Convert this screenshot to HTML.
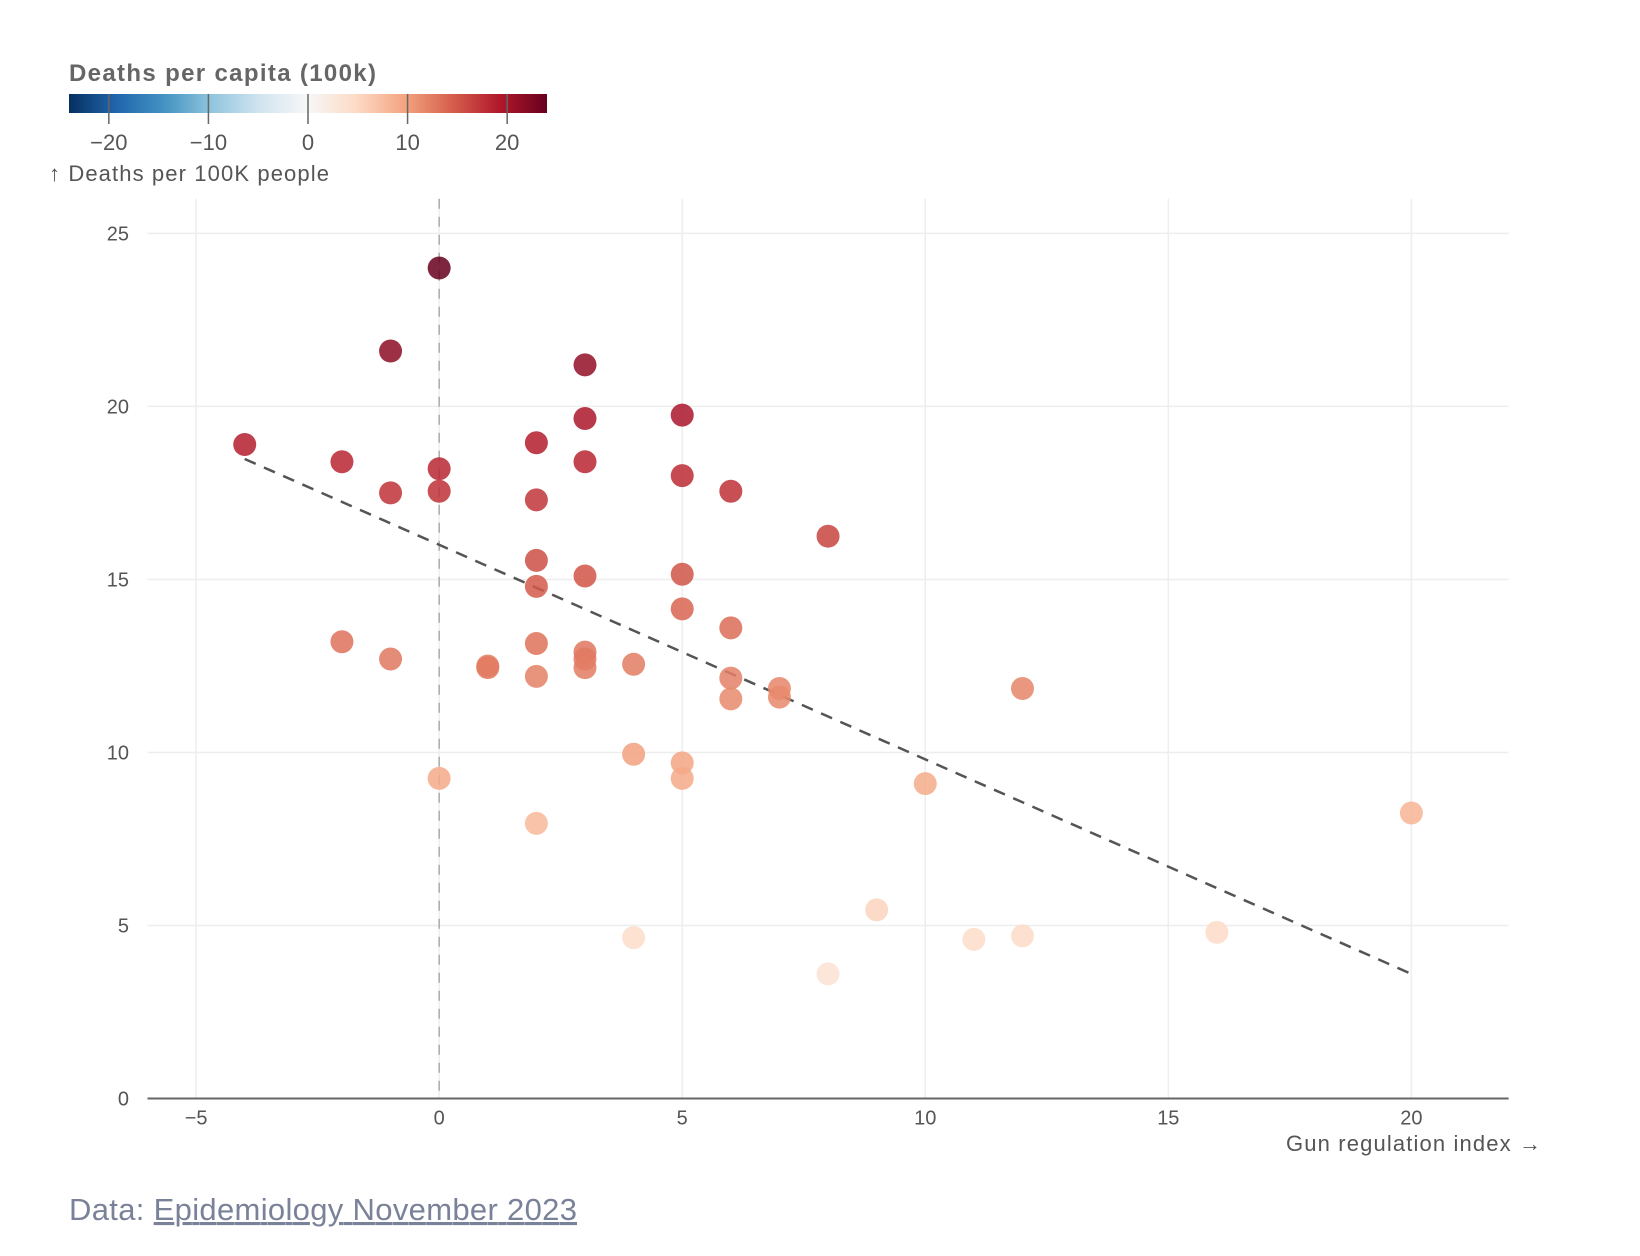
<!DOCTYPE html>
<html><head><meta charset="utf-8"><style>
html,body{margin:0;padding:0;background:#fff;width:1640px;height:1256px;overflow:hidden}
svg{display:block;font-family:"Liberation Sans",sans-serif}
</style></head><body>
<svg id="chart" width="1640" height="1256" viewBox="0 0 1640 1256">
<defs>
<linearGradient id="rdbu" x1="0" x2="1" y1="0" y2="0">
<stop offset="0" stop-color="#053061"/><stop offset="0.1" stop-color="#2166ac"/><stop offset="0.2" stop-color="#4393c3"/><stop offset="0.3" stop-color="#92c5de"/><stop offset="0.4" stop-color="#d1e5f0"/><stop offset="0.5" stop-color="#f7f7f7"/><stop offset="0.6" stop-color="#fddbc7"/><stop offset="0.7" stop-color="#f4a582"/><stop offset="0.8" stop-color="#d6604d"/><stop offset="0.9" stop-color="#b2182b"/><stop offset="1" stop-color="#67001f"/>
</linearGradient>
</defs>
<g id="legend"></g>
<g id="grid"></g>
<g id="axes"></g>
<g id="trend"></g>
<g id="points"></g>
<text x="69" y="1220" font-size="31" fill="#7a8299" textLength="508">Data: <tspan text-decoration="underline">Epidemiology November 2023</tspan></text>
</svg>
<script>
const xValues=[0,-1,3,-4,5,3,2,-2,3,0,5,-1,0,6,2,8,2,3,5,2,5,6,-2,2,3,3,3,-1,1,1,4,2,6,7,12,7,6,4,5,0,5,10,20,2,9,4,12,11,16,8];
const yValues=[24.0,21.6,21.2,18.9,19.75,19.65,18.95,18.4,18.4,18.2,18.0,17.5,17.55,17.55,17.3,16.25,15.55,15.1,15.15,14.8,14.15,13.6,13.2,13.15,12.9,12.7,12.45,12.7,12.45,12.5,12.55,12.2,12.15,11.85,11.85,11.6,11.55,9.95,9.7,9.25,9.25,9.1,8.25,7.95,5.45,4.65,4.7,4.6,4.8,3.6];
const xTicks=[-5,0,5,10,15,20];
const yTicks=[0,5,10,15,20,25];
const legendTicks=[-20,-10,0,10,20];

const NS="http://www.w3.org/2000/svg";
function mk(t,a,p){const e=document.createElementNS(NS,t);for(const k in a)e.setAttribute(k,a[k]);p.appendChild(e);return e;}
const X0=147.5,X1=1508.6,Y0=1098.5,Y1=198.8;
const xs=v=>X0+(v+6)/28*(X1-X0);
const ys=v=>Y0-v/26*(Y0-Y1);
const L0=69,L1=547,LY=94;
const ls=v=>L0+(v+24)/48*(L1-L0);
const stops=["#053061","#2166ac","#4393c3","#92c5de","#d1e5f0","#f7f7f7","#fddbc7","#f4a582","#d6604d","#b2182b","#67001f"];
function hex(h){return [1,3,5].map(i=>parseInt(h.substr(i,2),16));}
function color(v){let t=Math.max(0,Math.min(1,(v+24)/48))*10;const i=Math.min(9,Math.floor(t));const f=t-i;const a=hex(stops[i]),b=hex(stops[i+1]);return "rgb("+a.map((c,k)=>Math.round(c+(b[k]-c)*f)).join(",")+")";}

const lg=document.getElementById('legend');
const lt=mk('text',{x:69,y:81,'font-size':24,'font-weight':'bold',fill:'#666',textLength:307},lg);lt.textContent="Deaths per capita (100k)";


const bar=mk('rect',{x:L0,y:LY,width:L1-L0,height:19,fill:'url(#rdbu)'},lg);


legendTicks.forEach(v=>{
 const l=mk('line',{x1:ls(v),x2:ls(v),y1:LY,y2:LY+30,stroke:'#666','stroke-width':1.5},lg);
 
 
 const t=mk('text',{x:ls(v),y:150,'font-size':22,fill:'#555','text-anchor':'middle'},lg);t.textContent=v<0?"\u2212"+(-v):v;
 
 
});
const yt=mk('text',{x:49,y:181,'font-size':22,fill:'#555',textLength:280},lg);yt.textContent="\u2191 Deaths per 100K people";



const g=document.getElementById('grid');
xTicks.forEach(v=>{const l=mk('line',{x1:xs(v),x2:xs(v),y1:Y1,y2:Y0,stroke:'#eee','stroke-width':1.5},g);
 
 });
yTicks.forEach(v=>{const l=mk('line',{x1:X0,x2:X1,y1:ys(v),y2:ys(v),stroke:'#eee','stroke-width':1.5},g);
 
 });
const zl=mk('line',{x1:xs(0),x2:xs(0),y1:Y1,y2:Y0,stroke:'#aaa','stroke-width':1.5,'stroke-dasharray':'10,8'},g);



const ax=document.getElementById('axes');
const al=mk('line',{x1:X0,x2:X1,y1:Y0,y2:Y0,stroke:'#666','stroke-width':2},ax);


xTicks.forEach(v=>{const t=mk('text',{x:xs(v),y:Y0+26,'font-size':20,fill:'#555','text-anchor':'middle'},ax);t.textContent=v<0?"\u2212"+(-v):v;
 
 });
yTicks.forEach(v=>{const t=mk('text',{x:129,y:ys(v)+7,'font-size':20,fill:'#555','text-anchor':'end'},ax);t.textContent=v;
 
 });
const xt=mk('text',{x:1541,y:1151,'font-size':22,fill:'#555','text-anchor':'end',textLength:255},ax);xt.textContent="Gun regulation index \u2192";



const n=xValues.length;let mx=0,my=0;for(let i=0;i<n;i++){mx+=xValues[i];my+=yValues[i];}mx/=n;my/=n;
let sxy=0,sxx=0;for(let i=0;i<n;i++){sxy+=(xValues[i]-mx)*(yValues[i]-my);sxx+=(xValues[i]-mx)**2;}
const slope=sxy/sxx,icpt=my-slope*mx;
const xmin=Math.min(...xValues),xmax=Math.max(...xValues);
const tl=mk('line',{x1:xs(xmin),y1:ys(icpt+slope*xmin),x2:xs(xmax),y2:ys(icpt+slope*xmax),stroke:'#555','stroke-width':2.5,'stroke-dasharray':'12,9'},document.getElementById('trend'));



const pg=document.getElementById('points');
for(let i=0;i<n;i++){
 const c=mk('circle',{cx:xs(xValues[i]),cy:ys(yValues[i]),r:11.5,fill:color(yValues[i]),'fill-opacity':0.85},pg);
 
 
}
</script>
</body></html>
